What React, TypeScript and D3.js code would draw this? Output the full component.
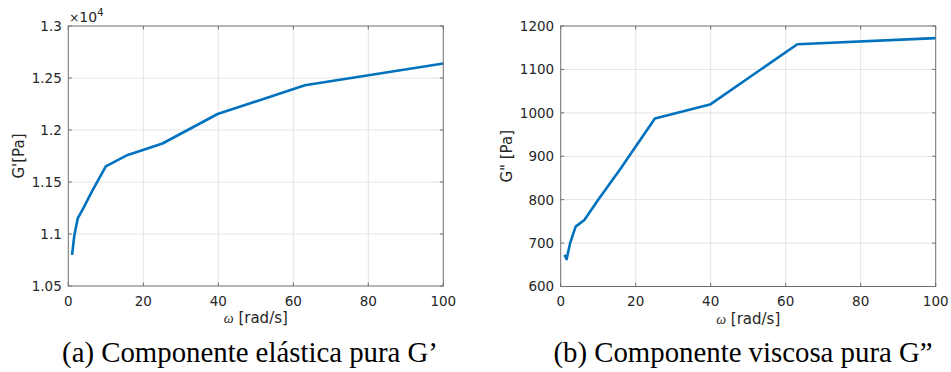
import React, { useRef, useEffect } from "react";
import * as d3 from "d3";

// angular frequency sweep [rad/s]
const omega = [1, 1.585, 2.512, 3.981, 6.31, 10, 15.85, 25.12, 39.81, 63.1, 100];
// storage modulus G' [Pa]
const gPrime = [10800, 10980, 11150, 11247, 11410, 11650, 11760, 11870, 12154, 12430, 12640];
// loss modulus G'' [Pa]
const gDoublePrime = [673, 663, 700, 738, 753, 800, 870, 987, 1019, 1158, 1172];

const xTicks = [0, 20, 40, 60, 80, 100];
const leftYTicks = [10500, 11000, 11500, 12000, 12500, 13000];
const rightYTicks = [600, 700, 800, 900, 1000, 1100, 1200];

const captions = ["(a) Componente elástica pura G’", "(b) Componente viscosa pura G”"];

const BLUE = "#0072BD";
const INK = "#262626";
const BOX = "#6e6e6e";

type PanelOpts = {
  left: number;
  right: number;
  top: number;
  bottom: number;
  values: number[];
  yDomain: [number, number];
  yTicks: number[];
  fmt: (v: number) => string;
  yLabel: string;
  yLabelX: number;
  caption: string;
  captionX: number;
  exponent?: boolean;
};

const drawPanel = (svg: d3.Selection<SVGSVGElement, unknown, null, undefined>, o: PanelOpts) => {
  const x = d3.scaleLinear().domain([0, 100]).range([o.left, o.right]);
  const y = d3.scaleLinear().domain(o.yDomain).range([o.bottom, o.top]);
  const g = svg.append("g");

  // grid
  g.selectAll(".gx").data(xTicks.slice(1, -1)).enter().append("line")
    .attr("x1", (d) => x(d)).attr("x2", (d) => x(d))
    .attr("y1", o.top).attr("y2", o.bottom)
    .attr("stroke", "#e4e4e4").attr("stroke-width", 1);
  g.selectAll(".gy").data(o.yTicks.slice(1, -1)).enter().append("line")
    .attr("x1", o.left).attr("x2", o.right)
    .attr("y1", (d) => y(d)).attr("y2", (d) => y(d))
    .attr("stroke", "#e4e4e4").attr("stroke-width", 1);

  // inward ticks
  const tl = 3.5;
  xTicks.forEach((t) => {
    g.append("line").attr("x1", x(t)).attr("x2", x(t)).attr("y1", o.bottom).attr("y2", o.bottom - tl).attr("stroke", BOX);
    g.append("line").attr("x1", x(t)).attr("x2", x(t)).attr("y1", o.top).attr("y2", o.top + tl).attr("stroke", BOX);
  });
  o.yTicks.forEach((t) => {
    g.append("line").attr("x1", o.left).attr("x2", o.left + tl).attr("y1", y(t)).attr("y2", y(t)).attr("stroke", BOX);
    g.append("line").attr("x1", o.right).attr("x2", o.right - tl).attr("y1", y(t)).attr("y2", y(t)).attr("stroke", BOX);
  });

  // data line
  const line = d3.line<number>()
    .x((d, i) => x(omega[i]))
    .y((d) => y(d));
  g.append("path")
    .datum(o.values)
    .attr("d", line)
    .attr("fill", "none")
    .attr("stroke", BLUE)
    .attr("stroke-width", 2.6)
    .attr("stroke-linejoin", "round");

  // box
  g.append("rect")
    .attr("x", o.left).attr("y", o.top)
    .attr("width", o.right - o.left).attr("height", o.bottom - o.top)
    .attr("fill", "none").attr("stroke", BOX).attr("stroke-width", 1);

  const font = "DejaVu Sans, sans-serif";

  g.selectAll(".xl").data(xTicks).enter().append("text")
    .attr("x", (d) => x(d)).attr("y", o.bottom + 19.5)
    .attr("text-anchor", "middle")
    .attr("font-family", font).attr("font-size", 13.5).attr("fill", INK)
    .text((d) => d);

  g.selectAll(".yl").data(o.yTicks).enter().append("text")
    .attr("x", o.left - 6.5).attr("y", (d) => y(d)).attr("dy", "0.36em")
    .attr("text-anchor", "end")
    .attr("font-family", font).attr("font-size", 13.5).attr("fill", INK)
    .text((d) => o.fmt(d));

  const xl = g.append("text")
    .attr("x", (o.left + o.right) / 2).attr("y", o.bottom + 37)
    .attr("text-anchor", "middle")
    .attr("font-family", font).attr("font-size", 15).attr("fill", INK);
  xl.append("tspan").attr("font-style", "italic").attr("font-family", "Liberation Serif, serif").attr("font-size", 14).text("ω");
  xl.append("tspan").text(" [rad/s]");

  g.append("text")
    .attr("transform", `translate(${o.yLabelX},${(o.top + o.bottom) / 2}) rotate(-90)`)
    .attr("text-anchor", "middle")
    .attr("font-family", font).attr("font-size", 15).attr("fill", INK)
    .text(o.yLabel);

  if (o.exponent) {
    const ex = g.append("text")
      .attr("x", o.left + 1).attr("y", o.top - 4.5)
      .attr("font-family", font).attr("font-size", 14).attr("fill", INK);
    ex.append("tspan").attr("font-size", 12).text("×");
    ex.append("tspan").text("10");
    ex.append("tspan").attr("dy", -6).attr("font-size", 10).text("4");
  }

  g.append("text")
    .attr("x", o.captionX).attr("y", 361.5)
    .attr("text-anchor", "middle")
    .attr("font-family", "Liberation Serif, Times New Roman, serif")
    .attr("font-size", 28.8).attr("fill", "#000")
    .text(o.caption);
};

export default function App() {
  const ref = useRef<SVGSVGElement>(null);

  useEffect(() => {
    const svg = d3.select(ref.current as SVGSVGElement);
    svg.selectAll("*").remove();

    drawPanel(svg, {
      left: 68.3, right: 443.3, top: 26, bottom: 286,
      values: gPrime,
      yDomain: [10500, 13000],
      yTicks: leftYTicks,
      fmt: (v) => String(+(v / 1e4).toFixed(2)),
      yLabel: "G'[Pa]",
      yLabelX: 24,
      caption: captions[0],
      captionX: 250,
      exponent: true,
    });

    drawPanel(svg, {
      left: 560.7, right: 935.7, top: 26, bottom: 286.5,
      values: gDoublePrime,
      yDomain: [600, 1200],
      yTicks: rightYTicks,
      fmt: (v) => String(v),
      yLabel: "G\" [Pa]",
      yLabelX: 512,
      caption: captions[1],
      captionX: 743,
    });
  }, []);

  return (
    <svg
      ref={ref}
      width={951}
      height={372}
      style={{ position: "absolute", left: 0, top: 0, background: "#fff" }}
    />
  );
}
